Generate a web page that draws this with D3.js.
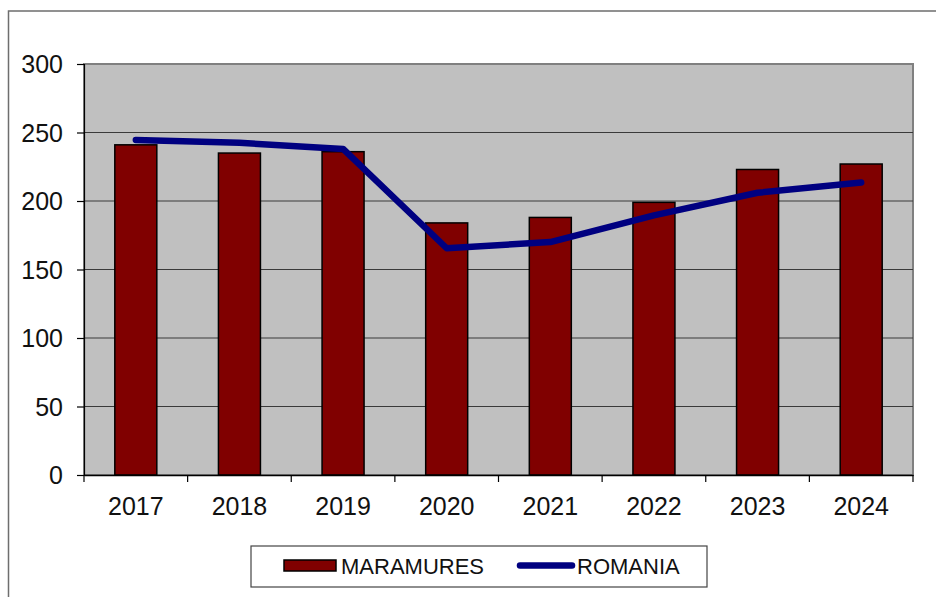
<!DOCTYPE html>
<html><head><meta charset="utf-8">
<script src="https://cdn.jsdelivr.net/npm/d3@7"></script>
<style>body{margin:0;background:#fff;}svg{display:block;}</style>
</head><body>
<svg id="chart" width="936" height="597"></svg>
<script>
const years = ["2017","2018","2019","2020","2021","2022","2023","2024"];
const maramures = [241, 235, 236, 184, 188, 199, 223, 227];
const romania = [244.5, 242.5, 238, 165.5, 170, 189.5, 206, 213.5];
const yTicks = [0, 50, 100, 150, 200, 250, 300];
const seriesNames = ["MARAMURES", "ROMANIA"];

const svg = d3.select("#chart");
const m = {left: 84, top: 64, right: 913, bottom: 475};
const font = "'Liberation Sans', Arial, sans-serif";

// outer frame
svg.append("rect").attr("x", 8.5).attr("y", 11).attr("width", 940).attr("height", 600)
  .attr("fill", "#fff").attr("stroke", "#6e6e6e").attr("stroke-width", 1.5);

const x = d3.scaleBand().domain(years).range([m.left, m.right]).paddingInner(0.6).paddingOuter(0.3);
const xb = d3.scaleBand().domain(years).range([m.left, m.right]);
const y = d3.scaleLinear().domain([0, 300]).range([m.bottom, m.top]);

// plot background
svg.append("rect").attr("x", m.left).attr("y", m.top).attr("width", m.right - m.left).attr("height", m.bottom - m.top)
  .attr("fill", "#c0c0c0").attr("stroke", "#808080").attr("stroke-width", 2);

// gridlines
svg.append("g").selectAll("line").data(yTicks.filter(d => d > 0 && d < 300)).join("line")
  .attr("x1", m.left).attr("x2", m.right).attr("y1", d => y(d)).attr("y2", d => y(d))
  .attr("stroke", "#3a3a3a").attr("stroke-width", 1.2);

// bars
svg.append("g").selectAll("rect").data(maramures).join("rect")
  .attr("x", (d, i) => xb(years[i]) + xb.bandwidth() / 2 - 21)
  .attr("width", 42)
  .attr("y", d => y(d)).attr("height", d => y(0) - y(d))
  .attr("fill", "#800000").attr("stroke", "#000").attr("stroke-width", 1.5);

// y axis
const yAxis = d3.axisLeft(y).tickValues(yTicks).tickSize(7).tickPadding(14);
const gy = svg.append("g").attr("transform", `translate(${m.left},0)`).call(yAxis);
gy.select(".domain").attr("stroke", "#000").attr("stroke-width", 1.2);
gy.selectAll(".tick line").attr("stroke", "#000").attr("stroke-width", 1.2);
gy.selectAll(".tick text").attr("font-family", font).attr("font-size", 25).attr("fill", "#111").attr("dy", "0.35em");

// x axis
const xAxis = d3.axisBottom(xb).tickSize(0).tickPadding(22);
const gx = svg.append("g").attr("transform", `translate(0,${m.bottom})`).call(xAxis);
gx.select(".domain").attr("stroke", "#000").attr("stroke-width", 1.5);
gx.selectAll(".tick text").attr("font-family", font).attr("font-size", 25).attr("fill", "#111");
// x ticks at band boundaries
const bounds = years.map(d => xb(d)).concat([m.right]);
svg.append("g").selectAll("line").data(bounds).join("line")
  .attr("x1", d => d).attr("x2", d => d).attr("y1", m.bottom).attr("y2", m.bottom + 7)
  .attr("stroke", "#000").attr("stroke-width", 1.2);

// line
const line = d3.line().x((d, i) => xb(years[i]) + xb.bandwidth() / 2).y(d => y(d));
svg.append("path").datum(romania).attr("d", line)
  .attr("fill", "none").attr("stroke", "#000080").attr("stroke-width", 6.5)
  .attr("stroke-linecap", "round").attr("stroke-linejoin", "round");

// legend
const lg = svg.append("g");
lg.append("rect").attr("x", 251).attr("y", 546).attr("width", 456).attr("height", 41)
  .attr("fill", "#fff").attr("stroke", "#444").attr("stroke-width", 1.2);
lg.append("rect").attr("x", 284).attr("y", 560).attr("width", 52).attr("height", 11)
  .attr("fill", "#800000").attr("stroke", "#000").attr("stroke-width", 1.5);
lg.append("text").attr("x", 341).attr("y", 573.5).text(seriesNames[0])
  .attr("font-family", font).attr("font-size", 22).attr("fill", "#111");
lg.append("line").attr("x1", 520).attr("x2", 572).attr("y1", 565.5).attr("y2", 565.5)
  .attr("stroke", "#000080").attr("stroke-width", 6.5).attr("stroke-linecap", "round");
lg.append("text").attr("x", 577).attr("y", 573.5).text(seriesNames[1])
  .attr("font-family", font).attr("font-size", 22).attr("fill", "#111");
</script>
</body></html>
